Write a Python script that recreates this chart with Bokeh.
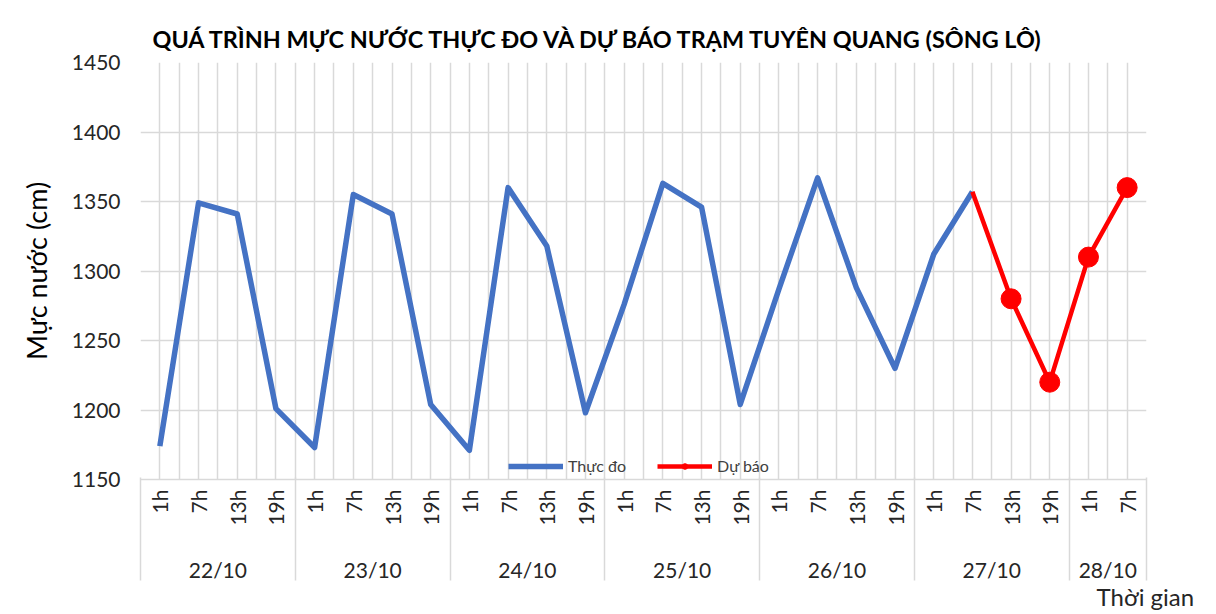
import math
from bokeh.plotting import figure
from bokeh.models import (Range1d, FixedTicker, LinearAxis, Legend, LegendItem)
from bokeh.embed import file_html
from bokeh.resources import INLINE

# ---- data ----
days = ["22/10", "23/10", "24/10", "25/10", "26/10", "27/10", "28/10"]
hours_per_day = [["1h", "7h", "13h", "19h"]] * 6 + [["1h", "7h"]]
measured = [1174, 1349, 1341, 1201,
            1173, 1355, 1341, 1204,
            1171, 1360, 1318, 1198,
            1276, 1363, 1346, 1204,
            1287, 1367, 1288, 1230,
            1312, 1357]
forecast = [1357, 1280, 1220, 1310, 1360]   # 27/10 7h -> 28/10 7h
y_ticks = [1150, 1200, 1250, 1300, 1350, 1400, 1450]

title_text = "QUÁ TRÌNH MỰC NƯỚC THỰC ĐO VÀ DỰ BÁO TRẠM TUYÊN QUANG (SÔNG LÔ)"
y_label = "Mực nước (cm)"
x_label = "Thời gian"
measured_name = "Thực đo"
forecast_name = "Dự báo"

# ---- derived category positions ----
hour_labels = [h for hs in hours_per_day for h in hs]
n = len(hour_labels)
idx = list(range(n))
x_meas = idx[:len(measured)]
x_fc = idx[len(measured) - 1:len(measured) - 1 + len(forecast)]
bounds = [-0.5]
centers = []
start = -0.5
for hs in hours_per_day:
    centers.append(start + len(hs) / 2.0)
    start += len(hs)
    bounds.append(start)
x_label_pos = n - 0.53   # "Thời gian" sits at the right end of the axis

FONT = "Lato"
GRID = "#d9d9d9"
TXT = "#262626"

p = figure(frame_width=1006, frame_height=417, output_backend="svg", toolbar_location=None,
           x_range=Range1d(-0.5, n - 0.5), y_range=Range1d(y_ticks[0], y_ticks[-1]),
           min_border_left=140, min_border_right=62, min_border_top=62,
           min_border_bottom=0)
p.outline_line_color = None
p.background_fill_color = "white"
p.border_fill_color = "white"

p.title.text = title_text
p.title.text_font = FONT
p.title.text_font_size = "23.4px"
p.title.text_font_style = "bold"
p.title.text_color = "#000000"
p.title.align = "left"
p.title.offset = 12
p.title.standoff = 19

# grids
p.ygrid.ticker = FixedTicker(ticks=y_ticks)
p.ygrid.grid_line_color = GRID
p.ygrid.grid_line_width = 1.5
p.xgrid.ticker = FixedTicker(ticks=[-0.5 + 0.5 * k for k in range(2 * n + 1)])
p.xgrid.grid_line_color = GRID
p.xgrid.grid_line_width = 1.5

# y axis
ya = p.yaxis[0]
ya.ticker = FixedTicker(ticks=y_ticks)
ya.axis_line_color = None
ya.major_tick_line_color = None
ya.minor_tick_line_color = None
ya.major_tick_out = 0
ya.major_tick_in = 0
ya.major_label_text_font = FONT
ya.major_label_text_font_size = "21px"
ya.major_label_text_color = TXT
ya.major_label_standoff = 20
ya.axis_label = y_label
ya.axis_label_text_font = FONT
ya.axis_label_text_font_size = "27px"
ya.axis_label_text_font_style = "normal"
ya.axis_label_text_color = "#000000"
ya.axis_label_standoff = 16

# hour axis (row 1)
xa = p.xaxis[0]
xa.ticker = FixedTicker(ticks=idx)
xa.major_label_overrides = {i: h for i, h in zip(idx, hour_labels)}
xa.major_label_orientation = math.pi / 2
xa.major_label_text_font = FONT
xa.major_label_text_font_size = "21px"
xa.major_label_text_color = TXT
xa.major_label_standoff = 10
xa.major_tick_line_color = None
xa.minor_tick_line_color = None
xa.major_tick_out = 0
xa.major_tick_in = 0
xa.axis_line_color = GRID
xa.axis_line_width = 1.5

# row 2: day separators through both label rows + the axis title "Thời gian"
ta = LinearAxis(ticker=FixedTicker(ticks=[x_label_pos], minor_ticks=bounds),
                major_label_overrides={x_label_pos: x_label})
ta.axis_line_color = None
ta.major_tick_line_color = None
ta.major_tick_out = 0
ta.major_tick_in = 0
ta.minor_tick_in = 51
ta.minor_tick_out = 52
ta.minor_tick_line_color = GRID
ta.minor_tick_line_width = 1.5
ta.major_label_text_font = FONT
ta.major_label_text_font_size = "24px"
ta.major_label_text_color = TXT
ta.major_label_standoff = 1
p.add_layout(ta, "below")

# row 3: day labels, drawn back up under the hour labels
da = LinearAxis(ticker=FixedTicker(ticks=centers),
                major_label_overrides={c: d for c, d in zip(centers, days)})
da.axis_line_color = None
da.major_tick_line_color = None
da.minor_tick_line_color = None
da.major_tick_out = 0
da.major_tick_in = 0
da.minor_tick_out = 0
da.minor_tick_in = 0
da.major_label_text_font = FONT
da.major_label_text_font_size = "21px"
da.major_label_text_color = TXT
da.major_label_standoff = -57
p.add_layout(da, "below")

# lines
blue = p.line(x_meas, measured, line_color="#4472C4", line_width=5.5, line_join="round")
red = p.line(x_fc, forecast, line_color="#FF0000", line_width=4.5, line_join="round")
red_pts = p.scatter(x_fc[1:], forecast[1:], size=20, fill_color="#FF0000",
                    line_color="#FF0000")

# legend at the bottom centre of the plot area
legend = Legend(items=[LegendItem(label=measured_name, renderers=[blue]),
                       LegendItem(label=forecast_name, renderers=[red, red_pts])],
                orientation="horizontal", location=(368, 4),
                glyph_width=55, glyph_height=14, label_height=16,
                label_standoff=5, spacing=31,
                padding=0, margin=0, border_line_color=None,
                background_fill_alpha=0,
                label_text_font=FONT, label_text_font_size="16px",
                label_text_color="#404040")
p.add_layout(legend)

open("out.html", "w").write(file_html(p, INLINE))
